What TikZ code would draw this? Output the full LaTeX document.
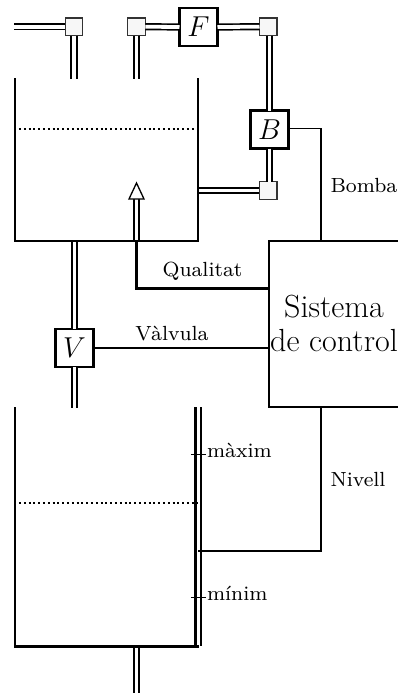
\documentclass[tikz,border=0pt]{standalone}
\tikzset{
  pipe/.style={draw=black,double=white,line width=0.85pt,double distance=1.9pt},
  wall/.style={draw=black,line width=1.1pt},
  thickwall/.style={draw=black,line width=1.6pt},
  wire/.style={draw=black,line width=0.95pt},
  level/.style={draw=black,line width=0.95pt,dash pattern=on 1pt off 1.4pt},
  joint/.style={draw=black!80,fill=black!3,line width=0.65pt,minimum size=8.8pt,inner sep=0pt,outer sep=0pt},
  device/.style={draw=black,fill=white,line width=1.2pt,minimum size=19pt,inner sep=0pt,outer sep=0pt,font=\fontsize{15}{18}\selectfont},
  lab/.style={inner sep=0pt,scale=1.28,font=\fontsize{8}{9}\selectfont},
}
\begin{document}
\begin{tikzpicture}[x=0.5pt,y=-0.5pt]
\useasboundingbox (0,0) rectangle (398,693);
% devices and joints
\node[joint] (j1) at (74,26.7) {};
\node[joint] (j2) at (136.5,26.7) {};
\node[joint] (j3) at (268.3,26.7) {};
\node[joint] (j4) at (268.3,190.5) {};
\node[device] (F) at (198.5,27) {$F$};
\node[device] (B) at (269.5,129.5) {$B$};
\node[device] (V) at (74.5,348) {$V$};
% free ends
\coordinate (inL) at (14,26.7);
\coordinate (d1) at (74,79);
\coordinate (d2) at (136.5,79);
\coordinate (tankR) at (198,190.5);
\coordinate (t1bV) at (74.5,241);
\coordinate (t2tV) at (74.5,408);
\coordinate (drainT) at (136.5,646);
\coordinate (drainB) at (136.5,693);
\coordinate (sensT) at (136.5,241);
\coordinate (sensH) at (136.5,199);
% pipes
\draw[pipe] (inL) -- (j1.west);
\draw[pipe] (j1.south) -- (d1);
\draw[pipe] (j2.south) -- (d2);
\draw[pipe] (j2.east) -- (F.west);
\draw[pipe] (F.east) -- (j3.west);
\draw[pipe] (j3.south -| B.north) -- (B.north);
\draw[pipe] (B.south) -- (j4.north -| B.south);
\draw[pipe] (tankR) -- (j4.west);
\draw[pipe] (t1bV) -- (V.north);
\draw[pipe] (V.south) -- (t2tV);
\draw[pipe] (sensT) -- (sensH);
\draw[pipe] (drainT) -- (drainB);
% sensor arrowhead
\draw[draw=black,fill=white,line width=0.65pt] (129,199) -- (136.5,183) -- (144,199) -- cycle;
% upper tank
\draw[wall] (15,78) -- (15,241) -- (198,241) -- (198,78);
\draw[level] (19,129) -- (195,129);
% lower tank
\draw[wall] (15,407) -- (15,646);
\draw[thickwall] (14.5,646.5) -- (199,646.5);
\draw[thickwall] (195.5,407) -- (195.5,646);
\draw[wire] (201,407) -- (201,646);
\draw[level] (19,503) -- (198,503);
\draw[line width=0.5pt] (191,454) -- (206,454);
\draw[line width=0.5pt] (191,597) -- (206,597);
\node[lab,anchor=west] (mx) at (206.5,450) {màxim};
\node[lab,anchor=west] (mn) at (206.5,593) {mínim};
% control system
\coordinate (ctlTR) at (398,241);
\coordinate (ctlBR) at (398,407);
\draw[wall] (ctlTR) -- (269,241) -- (269,407) -- (ctlBR);
\node[align=center,inner sep=0pt,font=\fontsize{16}{17}\selectfont] (ctl) at (334,323.5) {Sistema\\de control};
% signals
\coordinate (sB) at (321,241);
\coordinate (sN) at (321,407);
\coordinate (sL) at (198,551);
\coordinate (sQ) at (269,288);
\coordinate (sV) at (269,348);
\draw[wire] (B.east |- 0,128.5) -- (321,128.5) -- (sB);
\draw[wire] (sN) -- (321,551) -- (sL);
\draw[wire] (V.east) -- (sV);
\draw[draw=black,line width=1.5pt] (sensT) -- (136.5,288) -- (sQ);
\node[lab,anchor=west] (lb) at (330,185) {Bomba};
\node[lab,anchor=west] (ln) at (330,479) {Nivell};
\node[lab] (lq) at (202.5,271) {Qualitat};
\node[lab] (lv) at (172,334) {Vàlvula};
\end{tikzpicture}
\end{document}
